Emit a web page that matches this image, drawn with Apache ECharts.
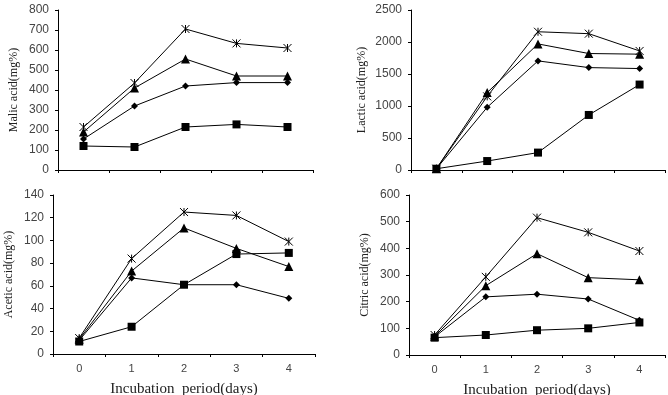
<!DOCTYPE html>
<html>
<head>
<meta charset="utf-8">
<script src="https://cdn.jsdelivr.net/npm/echarts@6/dist/echarts.min.js"></script>
<style>
  html, body { margin: 0; padding: 0; background: #fff; }
  #chart { width: 668px; height: 395px; }
</style>
</head>
<body>
<div id="chart"></div>
<script>
// incubation days
const days = ['0', '1', '2', '3', '4'];

// malic acid (mg%)
const malicStar = [215, 435, 705, 633, 610];
const malicTri = [190, 410, 555, 470, 470];
const malicDia = [155, 320, 420, 437, 437];
const malicSq = [120, 115, 215, 228, 215];

// lactic acid (mg%)
const lacticStar = [20, 1150, 2160, 2130, 1860];
const lacticTri = [20, 1210, 1970, 1820, 1810];
const lacticDia = [20, 980, 1705, 1600, 1585];
const lacticSq = [20, 140, 272, 860, 1335];

// acetic acid (mg%)
const aceticStar = [14, 84, 125, 122, 99];
const aceticTri = [13, 73, 111, 93, 77];
const aceticDia = [12, 67, 61, 61, 49];
const aceticSq = [11, 24, 61, 88, 89];

// citric acid (mg%)
const citricStar = [75, 293, 515, 460, 390];
const citricTri = [70, 260, 380, 290, 282];
const citricDia = [68, 218, 228, 210, 130];
const citricSq = [65, 75, 93, 100, 122];

const starPath = 'path://M0,0L10,10M10,0L0,10M5,0L5,10';
const sans = 'Arial';
const serif = '"Liberation Serif", "Times New Roman", serif';

const panels = [
    { name: 'Malic acid(mg%)', max: 800, interval: 100, showX: false, data: [malicStar, malicTri, malicDia, malicSq],
      grid: { left: 58, top: 10, width: 255, height: 160 } },
    { name: 'Lactic acid(mg%)', max: 2500, interval: 500, showX: false, data: [lacticStar, lacticTri, lacticDia, lacticSq],
      grid: { left: 411, top: 10, width: 254, height: 160 } },
    { name: 'Acetic acid(mg%)', max: 140, interval: 20, showX: true, data: [aceticStar, aceticTri, aceticDia, aceticSq],
      grid: { left: 53, top: 195, width: 262, height: 159 } },
    { name: 'Citric acid(mg%)', max: 600, interval: 100, showX: true, data: [citricStar, citricTri, citricDia, citricSq],
      grid: { left: 409, top: 195, width: 256, height: 160 } },
];

const markers = [
    { symbol: starPath, size: 8, style: { color: 'none', borderColor: '#000', borderWidth: 1 } },
    { symbol: 'triangle', size: 9, style: { color: '#000' } },
    { symbol: 'diamond', size: 7, style: { color: '#000' } },
    { symbol: 'rect', size: 8, style: { color: '#000' } },
];

const grids = [], xAxes = [], yAxes = [], series = [];

panels.forEach((p, i) => {
    // keep the plot box fixed even if the axis title runs off the page
    grids.push(Object.assign({ containLabel: false, outerBoundsMode: 'none' }, p.grid));
    xAxes.push({
        type: 'category',
        gridIndex: i,
        data: days,
        boundaryGap: true,
        axisLine: { lineStyle: { color: '#000', width: 1 } },
        axisTick: { show: true, length: 3, lineStyle: { color: '#000' } },
        axisLabel: { show: p.showX, color: '#444', fontSize: 11, fontFamily: sans, margin: 9 },
        name: p.showX ? 'Incubation  period(days)' : '',
        nameLocation: 'middle',
        nameGap: 28,
        nameTextStyle: { color: '#222', fontSize: 15, fontFamily: serif },
    });
    yAxes.push({
        type: 'value',
        gridIndex: i,
        min: 0,
        max: p.max,
        interval: p.interval,
        splitLine: { show: false },
        axisLine: { show: true, lineStyle: { color: '#000', width: 1 } },
        axisTick: { show: true, length: 3, lineStyle: { color: '#000' } },
        axisLabel: { color: '#444', fontSize: 12, fontFamily: sans, margin: 9, formatter: (v) => String(v) },
        name: p.name,
        nameLocation: 'middle',
        nameGap: p.max >= 1000 ? 43 : 38,
        nameTextStyle: { color: '#222', fontSize: 12, fontFamily: serif },
    });
    p.data.forEach((vals, k) => {
        const m = markers[k];
        series.push({
            type: 'line',
            xAxisIndex: i,
            yAxisIndex: i,
            data: vals,
            symbol: m.symbol,
            symbolSize: m.size,
            showAllSymbol: true,
            lineStyle: { color: '#000', width: 1 },
            itemStyle: m.style,
            animation: false,
        });
    });
});

const chart = echarts.init(document.getElementById('chart'));
chart.setOption({
    animation: false,
    grid: grids,
    xAxis: xAxes,
    yAxis: yAxes,
    series: series,
});
</script>
</body>
</html>
